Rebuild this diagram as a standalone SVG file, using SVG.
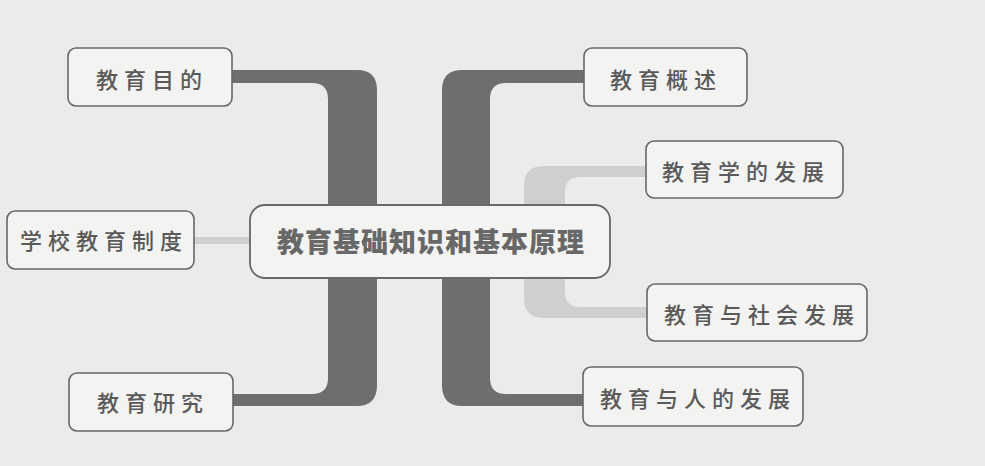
<svg xmlns="http://www.w3.org/2000/svg" width="985" height="466" viewBox="0 0 985 466">
  <defs>
    <style>
      .bg { fill: #ebebea; }
      .dark { fill: #6e6e6e; }
      .light { fill: #cfcfcf; }
      .node rect { fill: #f3f3f2; stroke: #686868; stroke-width: 1.6; }
      .node text { font-family: "Noto Sans CJK SC", "Noto Sans", sans-serif; font-size: 22px; letter-spacing: 6px; fill: #5a5a5a; text-anchor: middle; font-weight: 500; }
      #center rect { stroke-width: 1.8; }
      #center text { font-size: 27px; letter-spacing: 1px; font-weight: 900; fill: #686868; }
    </style>
  </defs>
  <rect class="bg" x="0" y="0" width="985" height="466"/>

  <g id="connectors">
    <path class="dark" d="M 232,70 L 357,70 Q 377,70 377,90 L 377,385 Q 377,406 357,406 L 233,406 L 233,394 L 312,394 Q 328,394 328,378 L 328,99 Q 328,83 312,83 L 232,83 Z"/>
    <path class="dark" d="M 584,70 L 462,70 Q 442,70 442,90 L 442,385 Q 442,406 462,406 L 583,406 L 583,394 L 506,394 Q 490,394 490,378 L 490,99 Q 490,83 506,83 L 584,83 Z"/>
    <path class="light" d="M 646,166 L 544,166 Q 524,166 524,186 L 524,298 Q 524,318 544,318 L 647,318 L 647,307 L 580,307 Q 565,307 565,292 L 565,192 Q 565,177 580,177 L 646,177 Z"/>
    <rect class="light" x="193" y="237" width="58" height="7"/>
  </g>

  <g id="center" class="node">
    <rect x="250" y="205" width="360" height="73" rx="15"/>
    <text x="431" y="252">教育基础知识和基本原理</text>
  </g>
  <g id="n-mudi" class="node">
    <rect x="68" y="48" width="164" height="58" rx="8"/>
    <text x="152" y="88">教育目的</text>
  </g>
  <g id="n-zhidu" class="node">
    <rect x="7" y="211" width="187" height="58" rx="8"/>
    <text x="104" y="249">学校教育制度</text>
  </g>
  <g id="n-yanjiu" class="node">
    <rect x="69" y="373" width="164" height="58" rx="8"/>
    <text x="153" y="411">教育研究</text>
  </g>
  <g id="n-gaishu" class="node">
    <rect x="584" y="48" width="163" height="58" rx="8"/>
    <text x="666" y="88">教育概述</text>
  </g>
  <g id="n-xue" class="node">
    <rect x="646" y="141" width="197" height="57" rx="8"/>
    <text x="746" y="180">教育学的发展</text>
  </g>
  <g id="n-shehui" class="node">
    <rect x="647" y="284" width="220" height="57" rx="8"/>
    <text x="762" y="323">教育与社会发展</text>
  </g>
  <g id="n-ren" class="node">
    <rect x="583" y="367" width="220" height="59" rx="8"/>
    <text x="698" y="407">教育与人的发展</text>
  </g>
</svg>
